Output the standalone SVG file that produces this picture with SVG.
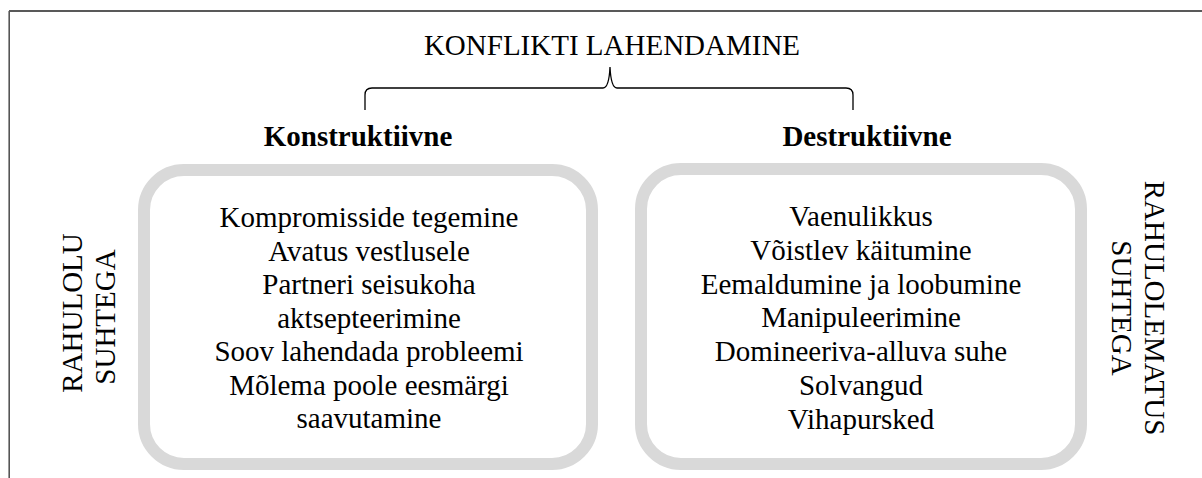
<svg xmlns="http://www.w3.org/2000/svg" width="1202" height="478" viewBox="0 0 1202 478">
<style>
.t{font-family:"Liberation Serif","Times New Roman",serif;font-size:29px;fill:#000;text-anchor:middle}
.b{font-weight:bold}
.box{fill:#fff;stroke:#d9d9d9;stroke-width:12}
.brace{fill:none;stroke:#000;stroke-width:1.3}
</style>
<rect width="1202" height="478" fill="#fff"/>
<g id="frame">
<line x1="9" y1="11" x2="1202" y2="11" stroke="#222" stroke-width="1.6"/>
<line x1="9.2" y1="11" x2="9.2" y2="478" stroke="#555" stroke-width="1.6"/>
</g>
<g id="title">
<text class="t" x="612" y="55">KONFLIKTI LAHENDAMINE</text>
</g>
<g id="connectors">
<path class="brace" d="M365,110 L365,95 Q365,88 372,88 L603,88 Q609,88 610,67 Q611,88 617,88 L846,88 Q853,88 853,95 L853,110"/>
</g>
<g id="konstruktiivne">
<text class="t b" x="358" y="146">Konstruktiivne</text>
<rect class="box" x="144" y="170" width="448" height="294" rx="40" ry="40"/>
<text class="t" x="369"><tspan x="369" y="227">Kompromisside tegemine</tspan><tspan x="369" y="260.5">Avatus vestlusele</tspan><tspan x="369" y="294">Partneri seisukoha</tspan><tspan x="369" y="327.5">aktsepteerimine</tspan><tspan x="369" y="361">Soov lahendada probleemi</tspan><tspan x="369" y="394.5">Mõlema poole eesmärgi</tspan><tspan x="369" y="428">saavutamine</tspan></text>
</g>
<g id="destruktiivne">
<text class="t b" x="867" y="146">Destruktiivne</text>
<rect class="box" x="641" y="169" width="440" height="295" rx="40" ry="40"/>
<text class="t" x="861"><tspan x="861" y="226">Vaenulikkus</tspan><tspan x="861" y="259.7">Võistlev käitumine</tspan><tspan x="861" y="293.5">Eemaldumine ja loobumine</tspan><tspan x="861" y="327.2">Manipuleerimine</tspan><tspan x="861" y="361">Domineeriva-alluva suhe</tspan><tspan x="861" y="394.7">Solvangud</tspan><tspan x="861" y="428.5">Vihapursked</tspan></text>
</g>
<g id="rahulolu">
<text class="t" transform="translate(82,313) rotate(-90)">RAHULOLU</text>
<text class="t" transform="translate(115,317) rotate(-90)">SUHTEGA</text>
</g>
<g id="rahulolematus">
<text class="t" transform="translate(1145,308) rotate(90)">RAHULOLEMATUS</text>
<text class="t" transform="translate(1112,308) rotate(90)">SUHTEGA</text>
</g>
</svg>
